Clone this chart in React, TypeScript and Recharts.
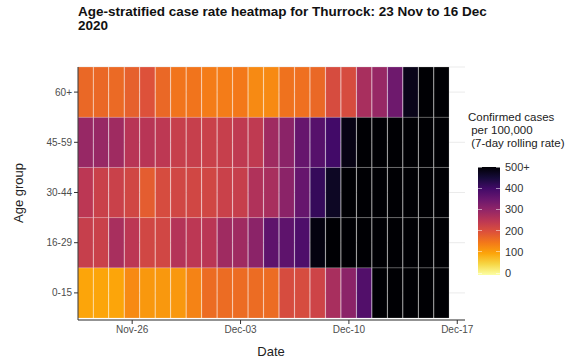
import React from 'react';
import { BarChart, Bar, Cell, XAxis, YAxis, CartesianGrid } from 'recharts';

// one label per day, Nov 23 -> Dec 17 (Dec-17 has no data, only the last tick)
const dates = [
  'Nov-23', 'Nov-24', 'Nov-25', 'Nov-26', 'Nov-27', 'Nov-28', 'Nov-29', 'Nov-30',
  'Dec-01', 'Dec-02', 'Dec-03', 'Dec-04', 'Dec-05', 'Dec-06', 'Dec-07', 'Dec-08',
  'Dec-09', 'Dec-10', 'Dec-11', 'Dec-12', 'Dec-13', 'Dec-14', 'Dec-15', 'Dec-16', 'Dec-17',
];
const dateTicks = ['Nov-26', 'Dec-03', 'Dec-10', 'Dec-17'];

// bottom to top
const ageGroups = ['0-15', '16-29', '30-44', '45-59', '60+'];

// cases per 100,000 (7-day rolling); 500+ is capped
const rate0to15 = [100, 100, 100, 130, 115, 115, 115, 138, 165, 165, 165, 165, 165, 210, 210, 225, 275, 310, 380, 600, 600, 600, 600, 600];
const rate16to29 = [235, 230, 275, 250, 220, 220, 260, 250, 252, 285, 285, 310, 365, 365, 385, 490, 600, 600, 600, 600, 600, 600, 600, 600];
const rate30to44 = [250, 230, 230, 220, 185, 210, 220, 220, 220, 230, 235, 265, 275, 310, 355, 415, 470, 600, 600, 600, 600, 600, 600, 600];
const rate45to59 = [295, 295, 285, 255, 255, 248, 235, 235, 230, 235, 245, 245, 285, 310, 355, 375, 400, 485, 600, 600, 600, 600, 600, 600];
const rate60plus = [170, 170, 168, 180, 200, 170, 155, 155, 145, 145, 150, 130, 130, 158, 160, 170, 210, 210, 275, 295, 345, 480, 600, 600];

const rates = [rate0to15, rate16to29, rate30to44, rate45to59, rate60plus];
const legendTicks = ['500+', '400', '300', '200', '100', '0'];

// matplotlib inferno stops
const inferno = [
  '#000004', '#160b39', '#420a68', '#6a176e', '#932667', '#bc3754',
  '#dd513a', '#f37819', '#fca50a', '#f6d746', '#fcffa4',
];

const hex = (c: string) => [1, 3, 5].map(i => parseInt(c.slice(i, i + 2), 16));

const rateColour = (v: number) => {
  const t = 1 - Math.min(Math.max(v, 0), 500) / 500;
  const p = t * (inferno.length - 1);
  const i = Math.min(Math.floor(p), inferno.length - 2);
  const f = p - i;
  const a = hex(inferno[i]);
  const b = hex(inferno[i + 1]);
  const rgb = a.map((x, k) => Math.round(x + (b[k] - x) * f));
  return `rgb(${rgb.join(',')})`;
};

const chartData = dates.map((date, i) => {
  const row: Record<string, any> = { date };
  ageGroups.forEach((_, g) => {
    row['g' + g] = i < rates[g].length ? 1 : null;
  });
  return row;
});

const font = '"Liberation Sans", Arial, sans-serif';

export default function App() {
  return (
    <div style={{ position: 'fixed', left: 0, top: 0, width: 584, height: 362, background: '#fff', fontFamily: font }}>
      <div style={{ position: 'absolute', left: 78, top: 5, fontSize: 13.5, fontWeight: 'bold', lineHeight: '14px', color: '#111' }}>
        Age-stratified case rate heatmap for Thurrock: 23 Nov to 16 Dec<br />2020
      </div>

      <BarChart
        width={584}
        height={362}
        data={chartData}
        margin={{ top: 67, right: 119, bottom: 12, left: 0 }}
        barCategoryGap={0}
        barGap={0}
      >
        <CartesianGrid vertical={false} stroke="#ebebeb" />
        <XAxis
          dataKey="date"
          ticks={dateTicks}
          height={30}
          tickSize={4}
          tick={{ fontSize: 10, fill: '#4d4d4d', fontFamily: font }}
          axisLine={{ stroke: '#333' }}
          tickLine={{ stroke: '#333' }}
        />
        <YAxis
          type="number"
          domain={[-0.04, 5]}
          ticks={[0.5, 1.5, 2.5, 3.5, 4.5]}
          tickFormatter={(v: number) => ageGroups[Math.floor(v)]}
          width={78}
          tickSize={4}
          tick={{ fontSize: 10, fill: '#4d4d4d', fontFamily: font }}
          axisLine={{ stroke: '#333' }}
          tickLine={{ stroke: '#333' }}
        />
        {ageGroups.map((g, gi) => (
          <Bar
            key={g}
            dataKey={'g' + gi}
            stackId="tiles"
            isAnimationActive={false}
            stroke="rgba(255,255,255,0.22)"
            strokeWidth={0.8}
          >
            {chartData.map((_, i) => (
              <Cell key={i} fill={i < rates[gi].length ? rateColour(rates[gi][i]) : 'none'} />
            ))}
          </Bar>
        ))}
      </BarChart>

      <div style={{ position: 'absolute', left: 0, width: 544, top: 344, textAlign: 'center', fontSize: 13, color: '#222' }}>
        <span style={{ position: 'absolute', left: 271, transform: 'translateX(-50%)' }}>Date</span>
      </div>
      <div style={{ position: 'absolute', left: 18, top: 193, fontSize: 13, color: '#222', transform: 'translate(-50%, -50%) rotate(-90deg)', whiteSpace: 'nowrap' }}>
        Age group
      </div>

      <div style={{ position: 'absolute', left: 468, top: 111, fontSize: 11.5, lineHeight: '13px', color: '#222', whiteSpace: 'pre' }}>
        {'Confirmed cases\n per 100,000\n (7-day rolling rate)'}
      </div>
      <div
        style={{
          position: 'absolute', left: 478, top: 167, width: 22, height: 108,
          background: `linear-gradient(to bottom, ${inferno.join(', ')})`,
        }}
      />
      {legendTicks.map((t, i) => (
        <div key={t} style={{ position: 'absolute', left: 478, top: 167 + i * 21.2, width: 22, height: 0 }}>
          <div style={{ position: 'absolute', left: 0, width: 4, top: -0.5, height: 1, background: 'rgba(255,255,255,0.5)' }} />
          <div style={{ position: 'absolute', right: 0, width: 4, top: -0.5, height: 1, background: 'rgba(255,255,255,0.5)' }} />
          <div style={{ position: 'absolute', left: 27, top: -7, fontSize: 11, lineHeight: '14px', color: '#333' }}>{t}</div>
        </div>
      ))}
    </div>
  );
}
